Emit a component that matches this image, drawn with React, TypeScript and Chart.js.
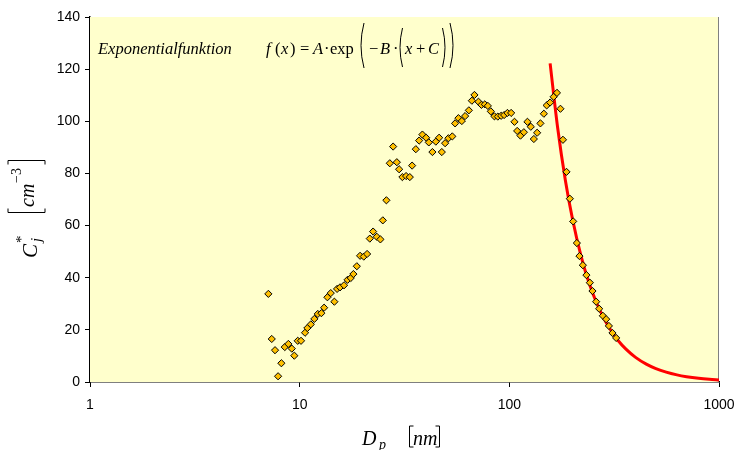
import React, { useEffect, useRef } from "react";
import { Chart, registerables } from "chart.js";

Chart.register(...registerables);

// Measured particle size distribution (D_p in nm, C*_j in cm^-3)
const dpValues = [
  7.09, 7.36, 7.63, 7.89, 8.18, 8.49, 8.83, 9.17, 9.43, 9.79,
  10.15, 10.61, 10.88, 11.3, 11.75, 12.2, 12.69, 13.08, 13.56, 14.07,
  14.64, 15.08, 15.58, 16.28, 16.93, 17.53, 18.04, 18.73, 19.42, 20.22,
  20.97, 21.6, 22.4, 23.33, 24.27, 24.92, 25.92, 26.91, 27.91, 29.07,
  29.81, 30.9, 32.18, 33.52, 34.38, 35.81, 37.13, 38.5, 40.1, 41.3,
  42.97, 44.61, 46.26, 47.64, 49.4, 51.23, 53.46, 55.13, 57.17, 59.35,
  61.52, 64.11, 66.26, 68.17, 71.24, 73.62, 76.41, 78.97, 81.61, 84.9,
  88.13, 91.4, 94.45, 97.93, 102.0, 105.8, 109.0, 113.0, 117.3, 122.0,
  126.6, 130.9, 135.7, 140.7, 146.1, 150.7, 156.5, 162.7, 168.7, 175.3,
  180.2, 187.3, 194.4, 201.6, 209.9, 216.0, 224.2, 233.2, 242.1, 249.2,
  259.5, 268.2, 279.3, 289.6, 298.4, 310.4, 323.3,
];
const cjValues = [
  33.8, 16.5, 12.2, 2.2, 7.2, 13.4, 14.6, 12.8, 10.1, 15.8,
  15.8, 18.9, 20.7, 22.1, 24.2, 26.1, 26.4, 28.5, 32.5, 34.1,
  30.8, 35.7, 36.3, 37.1, 39.2, 39.9, 41.4, 44.4, 48.4, 48.1,
  49.1, 55.0, 57.7, 55.7, 54.7, 62.0, 69.7, 83.9, 90.3, 84.3,
  81.6, 78.6, 79.0, 78.6, 83.0, 89.3, 92.6, 94.9, 93.7, 91.9,
  88.2, 92.2, 93.7, 88.2, 91.6, 93.5, 94.2, 99.2, 101.2, 100.1,
  102.0, 104.2, 107.9, 110.1, 107.5, 106.3, 106.5, 105.9, 103.8, 101.9,
  101.8, 102.1, 102.4, 103.2, 103.2, 99.8, 96.3, 94.5, 95.8, 99.8,
  97.9, 93.2, 95.6, 99.2, 102.9, 106.1, 107.2, 109.4, 110.9, 104.8,
  92.9, 80.6, 70.3, 61.6, 53.3, 48.3, 44.8, 41.0, 38.1, 34.9,
  30.8, 28.1, 25.4, 24.1, 21.5, 18.8, 16.9,
];

// Fitted exponential curve
const fitX = [156.5, 170, 185, 200, 220, 240, 260, 280, 300, 330, 360, 400, 450, 500, 560, 630, 700, 800, 900, 1000];
const fitY = [122.2, 97.5, 77.4, 62.6, 48.2, 38.0, 30.6, 25.0, 20.7, 15.9, 12.6, 9.43, 6.84, 5.13, 3.77, 2.73, 2.05, 1.42, 1.03, 0.77];

const xTicks = [1, 10, 100, 1000];
const yMin = 0;
const yMax = 140;
const yStep = 20;

const SERIF = "'Liberation Serif', 'Times New Roman', serif";
const SANS = "'Liberation Sans', Arial, sans-serif";

function paren(ctx: CanvasRenderingContext2D, x: number, top: number, bottom: number, dir: number, bulge: number) {
  ctx.beginPath();
  ctx.moveTo(x + dir * bulge, top);
  ctx.quadraticCurveTo(x - dir * bulge, (top + bottom) / 2, x + dir * bulge, bottom);
  ctx.stroke();
}

function bracket(ctx: CanvasRenderingContext2D, x: number, top: number, bottom: number, dir: number) {
  ctx.beginPath();
  ctx.moveTo(x + dir * 4, top);
  ctx.lineTo(x, top);
  ctx.lineTo(x, bottom);
  ctx.lineTo(x + dir * 4, bottom);
  ctx.stroke();
}

const decorPlugin = {
  id: "decor",
  beforeDatasetsDraw(chart: any) {
    const { ctx, chartArea } = chart;
    ctx.save();
    ctx.fillStyle = "#FFFFCC";
    ctx.fillRect(chartArea.left, chartArea.top, chartArea.right - chartArea.left, chartArea.bottom - chartArea.top);
    ctx.strokeStyle = "#808080";
    ctx.lineWidth = 1;
    ctx.beginPath();
    ctx.moveTo(chartArea.right - 0.5, chartArea.top);
    ctx.lineTo(chartArea.right - 0.5, chartArea.bottom);
    ctx.stroke();
    ctx.restore();
  },
  afterDraw(chart: any) {
    const { ctx, chartArea } = chart;
    const L = chartArea.left;
    const T = chartArea.top;
    ctx.save();
    ctx.fillStyle = "#000";
    ctx.strokeStyle = "#000";
    ctx.lineWidth = 1;
    ctx.textBaseline = "alphabetic";
    ctx.textAlign = "left";

    // Formula annotation
    const by = T + 37;
    const it = "italic 16.5px " + SERIF;
    const rm = "16.5px " + SERIF;
    ctx.font = it;
    ctx.fillText("Exponentialfunktion", L + 8, by);
    ctx.fillText("f", L + 176, by);
    ctx.font = rm;
    ctx.fillText("(", L + 185, by);
    ctx.font = it;
    ctx.fillText("x", L + 191, by);
    ctx.font = rm;
    ctx.fillText(")", L + 200, by);
    ctx.fillText("=", L + 210, by);
    ctx.font = it;
    ctx.fillText("A", L + 223, by);
    ctx.font = rm;
    ctx.fillText("\u00B7", L + 234, by);
    ctx.fillText("exp", L + 240, by);
    paren(ctx, L + 271, T + 6, T + 51, 1, 3);
    ctx.fillText("\u2212", L + 279, by);
    ctx.font = it;
    ctx.fillText("B", L + 290, by);
    ctx.font = rm;
    ctx.fillText("\u00B7", L + 303, by);
    paren(ctx, L + 310, T + 11, T + 50, 1, 2.5);
    ctx.font = it;
    ctx.fillText("x", L + 315, by);
    ctx.font = rm;
    ctx.fillText("+", L + 326, by);
    ctx.font = it;
    ctx.fillText("C", L + 338, by);
    paren(ctx, L + 355, T + 11, T + 50, -1, 2.5);
    paren(ctx, L + 363, T + 6, T + 51, -1, 3);

    // X axis title: D_p [nm]
    ctx.font = "italic 20px " + SERIF;
    ctx.fillText("D", 362, 445);
    ctx.font = "italic 14px " + SERIF;
    ctx.fillText("p", 379, 449);
    bracket(ctx, 409.5, 426, 447, 1);
    ctx.font = "italic 20px " + SERIF;
    ctx.fillText("nm", 413, 445);
    bracket(ctx, 439.5, 426, 447, -1);

    // Y axis title: C*_j [cm^-3] (rotated)
    ctx.translate(0, 260);
    ctx.rotate(-Math.PI / 2);
    ctx.font = "italic 21px " + SERIF;
    ctx.fillText("C", 2, 37);
    ctx.font = "15px " + SERIF;
    ctx.fillText("*", 17, 26);
    ctx.font = "italic 15px " + SERIF;
    ctx.fillText("j", 18, 41);
    bracket(ctx, 47.5, 8, 45, 1);
    ctx.font = "italic 20px " + SERIF;
    ctx.fillText("cm", 53, 34);
    ctx.font = "14px " + SERIF;
    ctx.fillText("\u22123", 77, 21);
    bracket(ctx, 99.5, 8, 45, -1);
    ctx.restore();
  },
};

export default function App() {
  const ref = useRef<HTMLCanvasElement | null>(null);
  useEffect(() => {
    document.body.style.margin = "0";
    const canvas = ref.current;
    if (!canvas) return;
    const pts = dpValues.map((x, i) => ({ x, y: cjValues[i] }));
    const fit = fitX.map((x, i) => ({ x, y: fitY[i] }));
    const chart = new Chart(canvas, {
      type: "scatter",
      data: {
        datasets: [
          {
            label: "Messwerte",
            data: pts,
            pointStyle: "rectRot",
            pointRadius: 3.6,
            pointBackgroundColor: "#FFC000",
            pointBorderColor: "#000000",
            pointBorderWidth: 1,
            showLine: false,
          },
          {
            label: "Exponentialfunktion",
            data: fit,
            showLine: true,
            borderColor: "#FF0000",
            borderWidth: 3,
            pointRadius: 0,
            cubicInterpolationMode: "monotone",
          },
        ],
      },
      options: {
        responsive: false,
        animation: false,
        layout: { padding: { left: 0, top: 17, right: 18, bottom: 0 } },
        plugins: { legend: { display: false }, tooltip: { enabled: false } },
        scales: {
          x: {
            type: "logarithmic",
            min: 1,
            max: 1000,
            afterBuildTicks: (scale: any) => {
              scale.ticks = xTicks.map((v) => ({ value: v }));
            },
            afterFit: (scale: any) => {
              scale.height = 68;
              scale.paddingLeft = 0;
              scale.paddingRight = 0;
            },
            ticks: {
              autoSkip: false,
              maxRotation: 0,
              padding: 10,
              color: "#000",
              font: { family: SANS, size: 14 },
              callback: (v: any) => String(v),
            },
            grid: { display: true, drawOnChartArea: false, drawTicks: true, tickLength: 5, color: "#000" },
            border: { display: true, color: "#000", width: 1.5 },
          },
          y: {
            min: yMin,
            max: yMax,
            afterFit: (scale: any) => {
              scale.width = 90;
              scale.paddingTop = 0;
              scale.paddingBottom = 0;
            },
            ticks: {
              stepSize: yStep,
              padding: 5,
              color: "#000",
              font: { family: SANS, size: 14 },
            },
            grid: { display: true, drawOnChartArea: false, drawTicks: true, tickLength: 5, color: "#000" },
            border: { display: true, color: "#000", width: 1.5 },
          },
        },
      },
      plugins: [decorPlugin],
    } as any);
    return () => chart.destroy();
  }, []);
  return (
    <div style={{ position: "relative", width: 737, height: 450 }}>
      <canvas ref={ref} width={737} height={450} style={{ display: "block" }} />
    </div>
  );
}
